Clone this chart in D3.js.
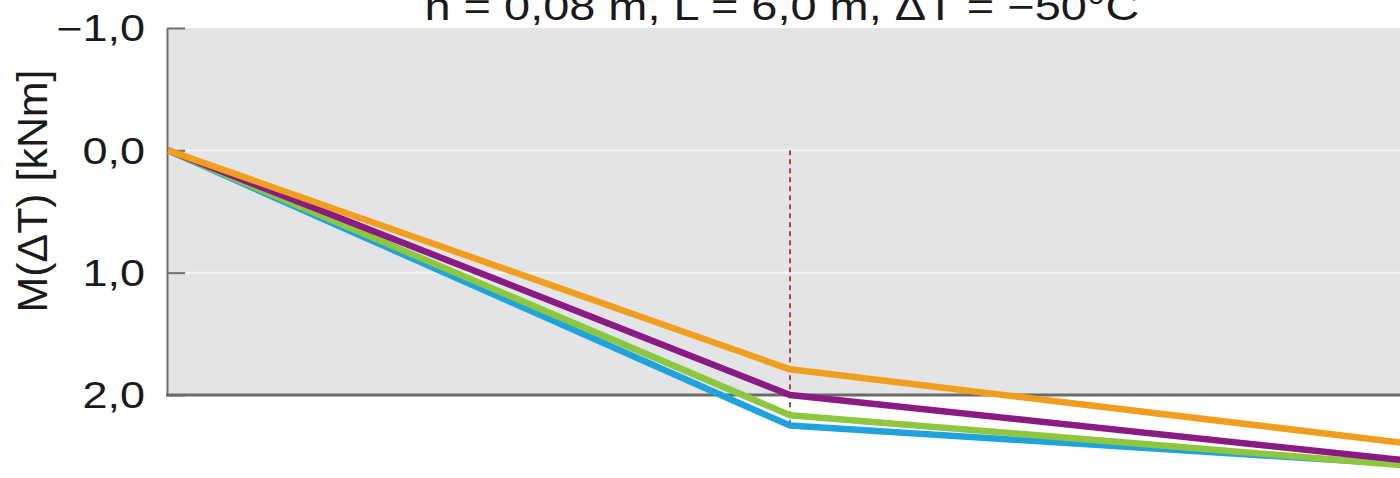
<!DOCTYPE html>
<meta charset="utf-8">
<style>
body { margin: 0; background: #fff; }
text { font-family: "Liberation Sans", Arial, sans-serif; fill: #1a1a1a; }
.axis path, .axis line { stroke: #6f6f6f; stroke-width: 2px; }
.lines path { fill: none; stroke-width: 6.5px; stroke-linejoin: round; }
</style>
<svg width="1400" height="478"></svg>
<script src="https://d3js.org/d3.v7.min.js"></script>
<script>
// span position (m) and moment M(dT) in kNm for each curve
var xPos   = [0, 3, 6];
var blue   = [0, 2.25, 2.57];
var green  = [0, 2.165, 2.58];
var purple = [0, 2.00, 2.54];
var orange = [0, 1.79, 2.40];
var yTicks = [-1, 0, 1, 2];
var gridTicks = [0, 1];
var title = "h = 0,08 m, L = 6,0 m, \u0394T = \u221250\u00b0C";
var yLabel = "M(\u0394T) [kNm]";

var svg = d3.select("svg"),
    width = +svg.attr("width"),
    height = +svg.attr("height");

var x = d3.scaleLinear().domain([0, 6]).range([168, 1412]);
var y = d3.scaleLinear().domain([-1, 2]).range([28, 395]);

var stretch = 1.25;

// plot background
svg.append("rect")
    .attr("x", x(0))
    .attr("y", y(-1))
    .attr("width", width - x(0))
    .attr("height", y(2) - y(-1))
    .attr("fill", "#e2e4e6");

svg.append("g")
  .selectAll("line")
  .data(gridTicks)
  .enter().append("line")
    .attr("x1", x(0) + 18)
    .attr("x2", width)
    .attr("y1", function(d) { return y(d); })
    .attr("y2", function(d) { return y(d); })
    .attr("stroke", "#f5f6f7")
    .attr("stroke-width", 2);

// dashed marker at mid span
svg.append("line")
    .attr("x1", x(xPos[1]))
    .attr("x2", x(xPos[1]))
    .attr("y1", y(0))
    .attr("y2", y(blue[1]))
    .attr("stroke", "#b0463a")
    .attr("stroke-width", 2)
    .attr("stroke-dasharray", "5,4");

var fmt = function(d) { return d3.format(".1f")(d).replace(".", ",").replace("-", "\u2212"); };

var yAxis = svg.append("g")
    .attr("class", "axis")
    .attr("transform", "translate(" + (x(0) - 1) + ",0)")
    .call(d3.axisLeft(y).tickValues(yTicks).tickFormat(fmt)
      .tickSizeInner(-18).tickSizeOuter(0).tickPadding(22));

yAxis.selectAll("text")
    .attr("font-size", 36)
    .attr("dy", "0.36em")
    .attr("fill", "#1a1a1a")
    .each(function() {
      this.setAttribute("textLength", this.getComputedTextLength() * stretch);
      this.setAttribute("lengthAdjust", "spacingAndGlyphs");
    });

// bottom line at 2,0
svg.append("line")
    .attr("x1", x(0) - 2)
    .attr("x2", width)
    .attr("y1", y(2))
    .attr("y2", y(2))
    .attr("stroke", "#6a6a6a")
    .attr("stroke-width", 3);

var series = [
  { name: "blue", values: blue, color: "#1fa3dc" },
  { name: "green", values: green, color: "#8dc63f" },
  { name: "purple", values: purple, color: "#891b82" },
  { name: "orange", values: orange, color: "#f19e1f" }
];

var line = d3.line()
    .x(function(d, i) { return x(xPos[i]); })
    .y(function(d) { return y(d); });

svg.append("g")
    .attr("class", "lines")
  .selectAll("path")
  .data(series)
  .enter().append("path")
    .attr("d", function(d) { return line(d.values); })
    .attr("stroke", function(d) { return d.color; });

svg.append("text")
    .attr("x", 782)
    .attr("y", 20)
    .attr("text-anchor", "middle")
    .attr("font-size", 38)
    .attr("textLength", 715)
    .attr("lengthAdjust", "spacingAndGlyphs")
    .text(title);

svg.append("text")
    .attr("transform", "translate(47,191) rotate(-90)")
    .attr("text-anchor", "middle")
    .attr("font-size", 42)
    .attr("textLength", 243)
    .attr("lengthAdjust", "spacingAndGlyphs")
    .text(yLabel);
</script>
